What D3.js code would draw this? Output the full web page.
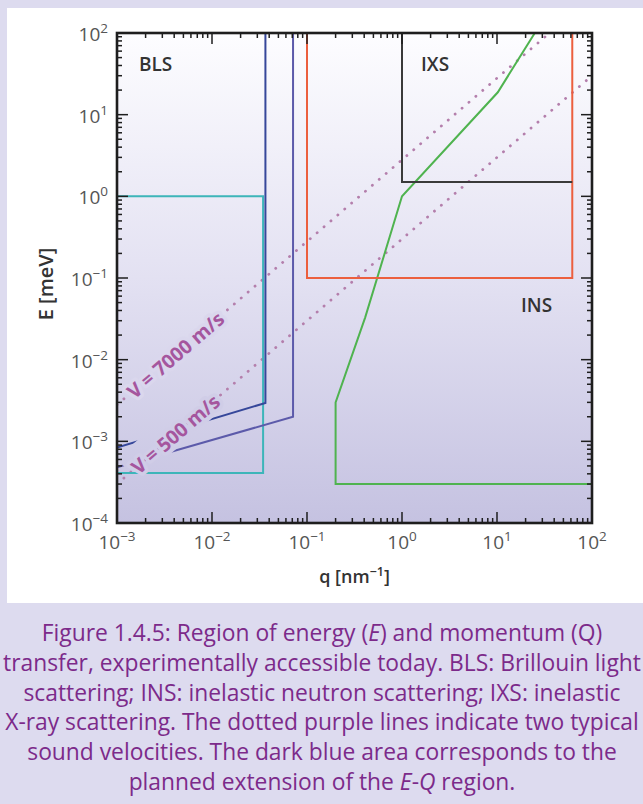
<!DOCTYPE html>
<html><head><meta charset="utf-8">
<script src="https://cdn.jsdelivr.net/npm/d3@7"></script>
<style>
html,body{margin:0;padding:0;background:#dddbef;}
svg{display:block;}
</style></head><body>
<svg id="c" width="643" height="804"></svg>
<script>
// ---------- data ----------
const qDomain = [1e-3, 1e2];          // q [nm^-1]
const eDomain = [1e-4, 1e2];          // E [meV]
const xTickExps = [-3, -2, -1, 0, 1, 2];
const yTickExps = [-4, -3, -2, -1, 0, 1, 2];

// BLS (cyan box)
const blsBox = [[1e-3, 1], [0.0345, 1], [0.0345, 4.1e-4], [1e-3, 4.1e-4]];
// planned extensions (dark blue / purple)
const extDark = [[1e-3, 8.4e-4], [0.0365, 2.95e-3], [0.0365, 100]];
const extPurple = [[1e-3, 4.8e-4], [0.0713, 2.0e-3], [0.0713, 100]];
// INS (orange)
const insBox = [[0.1, 100], [0.1, 0.1], [62, 0.1], [62, 100]];
// IXS (black)
const ixsBox = [[1, 100], [1, 1.5], [62, 1.5]];
// INS green limit
const insGreen = [[100, 3e-4], [0.2, 3e-4], [0.2, 3e-3], [0.41, 0.033], [1, 1], [10.2, 18.8], [25, 100]];
// sound velocity lines
const vel7000 = [[1e-3, 2.8e-3], [35.7, 100]];
const vel500 = [[1e-3, 3.0e-4], [100, 30]];
const velLabels = ["V = 7000 m/s", "V = 500 m/s"];

const regionLabels = ["BLS", "IXS", "INS"];
const captionLines = [
  [["Figure 1.4.5: Region of energy (", 0], ["E", 1], [") and momentum (Q)", 0]],
  [["transfer, experimentally accessible today. BLS: Brillouin light", 0]],
  [["scattering; INS: inelastic neutron scattering; IXS: inelastic", 0]],
  [["X-ray scattering. The dotted purple lines indicate two typical", 0]],
  [["sound velocities. The dark blue area corresponds to the", 0]],
  [["planned extension of the ", 0], ["E", 1], ["-", 0], ["Q", 1], [" region.", 0]]
];

// ---------- layout ----------
const L = 117, R = 592, T = 33, B = 523;
const svg = d3.select('#c');
const x = d3.scaleLog().domain(qDomain).range([L, R]);
const y = d3.scaleLog().domain(eDomain).range([B, T]);
const bgCol = d3.scaleLinear().domain([T, (T + B) / 2, B]).range(['#fdfdff', '#e3e1f2', '#c5c2e1']);

const defs = svg.append('defs');
const grad = defs.append('linearGradient').attr('id', 'bg')
  .attr('gradientUnits', 'userSpaceOnUse').attr('x1', 0).attr('y1', T).attr('x2', 0).attr('y2', B);
[[0, T], [0.5, (T + B) / 2], [1, B]].forEach(([o, yy]) => grad.append('stop').attr('offset', o).attr('stop-color', bgCol(yy)));
defs.append('clipPath').attr('id', 'clip').append('rect').attr('x', L).attr('y', T).attr('width', R - L).attr('height', B - T);

svg.append('rect').attr('x', 7).attr('y', 8).attr('width', 636).attr('height', 595).attr('fill', '#fff');
svg.append('rect').attr('x', L).attr('y', T).attr('width', R - L).attr('height', B - T).attr('fill', 'url(#bg)');

const line = d3.line().x(d => x(d[0])).y(d => y(d[1]));

// label geometry (computed from the velocity lines)
const labelQ = 4.1e-3;
const labelGeo = [vel7000, vel500].map(v => {
  const [p1, p2] = v;
  const slope = Math.log10(p2[1] / p1[1]) / Math.log10(p2[0] / p1[0]);
  const e = p1[1] * Math.pow(labelQ / p1[0], slope);
  const cx = x(labelQ), cy = y(e);
  const ang = Math.atan2(y(p2[1]) - y(p1[1]), x(p2[0]) - x(p1[0])) * 180 / Math.PI;
  return { cx, cy, ang };
});

// mask: the lower label's box interrupts the extension lines
const mask = defs.append('mask').attr('id', 'labMask').attr('maskUnits', 'userSpaceOnUse')
  .attr('x', 0).attr('y', 0).attr('width', 643).attr('height', 804);
mask.append('rect').attr('x', 0).attr('y', 0).attr('width', 643).attr('height', 804).attr('fill', '#fff');
mask.append('rect').attr('transform', `translate(${labelGeo[1].cx},${labelGeo[1].cy}) rotate(${labelGeo[1].ang})`)
  .attr('x', -60).attr('y', -20).attr('width', 122).attr('height', 32).attr('fill', '#000');

const plot = svg.append('g').attr('clip-path', 'url(#clip)');

// dotted velocity lines
[vel7000, vel500].forEach(v => {
  plot.append('path').attr('d', line(v)).attr('fill', 'none')
    .attr('stroke', '#b47fac').attr('stroke-width', 2.8)
    .attr('stroke-linecap', 'round').attr('stroke-dasharray', '0.1,9');
});

const solid = [
  [insGreen, '#4fb34f', false],
  [insBox, '#ec5f3e', false],
  [ixsBox, '#3a3a3a', false],
  [blsBox, '#3db5b9', false],
  [extPurple, '#5c5aaa', true],
  [extDark, '#36479a', true]
];
solid.forEach(([d, c, m]) => {
  const p = plot.append('path').attr('d', line(d)).attr('fill', 'none')
    .attr('stroke', c).attr('stroke-width', 2).attr('stroke-linejoin', 'miter');
  if (m) p.attr('mask', 'url(#labMask)');
});

// velocity labels
labelGeo.forEach((g, i) => {
  svg.append('text').attr('transform', `translate(${g.cx},${g.cy}) rotate(${g.ang})`)
    .attr('text-anchor', 'middle').attr('dominant-baseline', 'central')
    .attr('font-family', 'Open Sans').attr('font-weight', 700).attr('font-size', 19.5)
    .attr('fill', '#a5569e').attr('stroke', bgCol(g.cy)).attr('stroke-width', 7)
    .attr('paint-order', 'stroke').attr('stroke-linejoin', 'round')
    .text(velLabels[i]);
});

// region labels
const regPos = [[139, 71], [421, 71], [521, 312]];
regionLabels.forEach((t, i) => {
  svg.append('text').attr('x', regPos[i][0]).attr('y', regPos[i][1])
    .attr('font-family', 'Open Sans').attr('font-weight', 600).attr('font-size', 19)
    .attr('fill', '#333').text(t);
});

// ticks
const ax = svg.append('g').attr('stroke', '#1e1e1e');
const isMajor = v => Math.abs(Math.log10(v) - Math.round(Math.log10(v))) < 1e-6;
const xt = x.ticks().filter(v => v >= qDomain[0] * 0.999 && v <= qDomain[1] * 1.001);
const yt = y.ticks().filter(v => v >= eDomain[0] * 0.999 && v <= eDomain[1] * 1.001);
const MJ = 11, MN = 5;
xt.forEach(v => {
  const len = isMajor(v) ? MJ : MN, px = x(v);
  ax.append('line').attr('x1', px).attr('x2', px).attr('y1', B).attr('y2', B - len).attr('stroke-width', 1.5);
  ax.append('line').attr('x1', px).attr('x2', px).attr('y1', T).attr('y2', T + len).attr('stroke-width', 1.5);
});
yt.forEach(v => {
  const len = isMajor(v) ? MJ : MN, py = y(v);
  ax.append('line').attr('y1', py).attr('y2', py).attr('x1', L).attr('x2', L + len).attr('stroke-width', 1.5);
  ax.append('line').attr('y1', py).attr('y2', py).attr('x1', R).attr('x2', R - len).attr('stroke-width', 1.5);
});
ax.append('rect').attr('x', L).attr('y', T).attr('width', R - L).attr('height', B - T)
  .attr('fill', 'none').attr('stroke-width', 2.6);

// tick labels
const expStr = e => (e < 0 ? '\u2212' + (-e) : '' + e);
xTickExps.forEach(e => {
  const t = svg.append('text').attr('x', x(Math.pow(10, e))).attr('y', 549)
    .attr('text-anchor', 'middle').attr('font-family', 'Open Sans').attr('font-size', 19).attr('fill', '#555');
  t.append('tspan').text('10');
  t.append('tspan').attr('dy', -8).attr('font-size', 13.5).text(expStr(e));
});
yTickExps.forEach(e => {
  const t = svg.append('text').attr('x', 108).attr('y', y(Math.pow(10, e)) + 8)
    .attr('text-anchor', 'end').attr('font-family', 'Open Sans').attr('font-size', 19).attr('fill', '#555');
  t.append('tspan').text('10');
  t.append('tspan').attr('dy', -8).attr('font-size', 13.5).text(expStr(e));
});

// axis titles
const xt1 = svg.append('text').attr('x', (L + R) / 2).attr('y', 583).attr('text-anchor', 'middle')
  .attr('font-family', 'Open Sans').attr('font-weight', 600).attr('font-size', 18).attr('fill', '#333');
xt1.append('tspan').text('q [nm');
xt1.append('tspan').attr('dy', -7).attr('font-size', 12.5).text('\u22121');
xt1.append('tspan').attr('dy', 7).text(']');
svg.append('text').attr('transform', `translate(53,284) rotate(-90)`).attr('text-anchor', 'middle')
  .attr('font-family', 'Open Sans').attr('font-weight', 600).attr('font-size', 20).attr('fill', '#333')
  .text('E [meV]');

// caption
const cap = svg.append('g');
let fs = 21;
const capBase = 641, capStep = 29.8;
captionLines.forEach((parts, i) => {
  const t = cap.append('text').attr('x', 322).attr('y', capBase + i * capStep).attr('text-anchor', 'middle')
    .attr('font-family', 'Open Sans').attr('font-size', fs).attr('fill', '#7c2a8a');
  parts.forEach(([s, it]) => t.append('tspan').attr('font-style', it ? 'italic' : 'normal').text(s));
});
// fit caption width to reference (line 4 ≈ 634 px wide)
const w4 = cap.selectAll('text').nodes()[3].getComputedTextLength();
fs = fs * 634 / w4;
cap.selectAll('text').attr('font-size', fs);
</script>
</body></html>
